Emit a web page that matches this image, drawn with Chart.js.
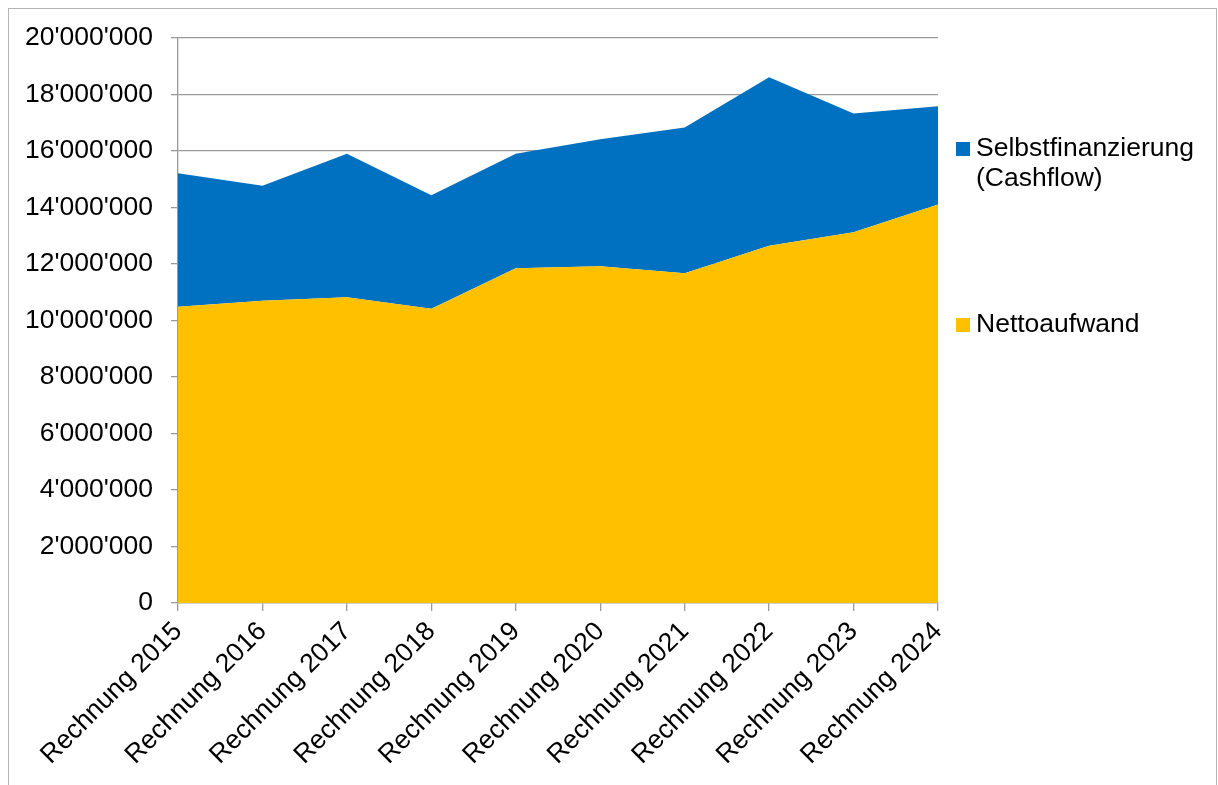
<!DOCTYPE html>
<html>
<head>
<meta charset="utf-8">
<script src="https://cdn.jsdelivr.net/npm/chart.js@4"></script>
<style>
    body { margin: 0; background: #fff; }
    canvas { display: block; }
</style>
</head>
<body>
<canvas id="areaChart" width="1218" height="785"></canvas>
<script>
// Kategorien und Werte (in Mio. CHF)
var years = ["Rechnung 2015", "Rechnung 2016", "Rechnung 2017", "Rechnung 2018", "Rechnung 2019",
             "Rechnung 2020", "Rechnung 2021", "Rechnung 2022", "Rechnung 2023", "Rechnung 2024"];
var nettoaufwand = [10.49, 10.70, 10.82, 10.42, 11.85, 11.92, 11.67, 12.65, 13.12, 14.11];
var cashflow = [4.72, 4.07, 5.08, 4.01, 4.05, 4.50, 5.16, 5.96, 4.21, 3.47];
var yTicks = [0, 2, 4, 6, 8, 10, 12, 14, 16, 18, 20];

const fontFamily = "'Liberation Sans', Arial, sans-serif";
const fontSize = 26.5;

function toFranken(arr) {
    return arr.map(v => Math.round(v * 1000000));
}

function swissFormat(value) {
    return value.toString().replace(/\B(?=(\d{3})+(?!\d))/g, "'");
}

// Rahmen um das ganze Diagramm
const frame = {
    id: "frame",
    beforeDraw(chart) {
        var ctx = chart.ctx;
        ctx.save();
        ctx.fillStyle = "#fff";
        ctx.fillRect(0, 0, chart.width, chart.height);
        ctx.strokeStyle = "#b4b4b4";
        ctx.lineWidth = 1;
        ctx.strokeRect(8.5, 8.5, 1208, 800);
        ctx.restore();
    }
};

// Legende rechts, mit Zeilenumbruch
const sideLegend = {
    id: "sideLegend",
    afterDraw(chart) {
        var ctx = chart.ctx;
        var x = chart.chartArea.right + 18;
        var rows = [149, 325];
        var order = [1, 0];
        ctx.save();
        ctx.font = fontSize + "px " + fontFamily;
        ctx.textBaseline = "middle";
        order.forEach((dsIndex, i) => {
            var ds = chart.data.datasets[dsIndex];
            var y = rows[i];
            ctx.fillStyle = ds.backgroundColor;
            ctx.fillRect(x, y - 7, 14, 14);
            ctx.fillStyle = "#000";
            var lines = ds.label.split(" (");
            lines.forEach((line, j) => {
                var txt = j > 0 ? "(" + line : line;
                ctx.fillText(txt, x + 20, y + j * 30);
            });
        });
        ctx.restore();
    }
};

var areaChart = new Chart("areaChart", {
    type: "line",
    data: {
        labels: years,
        datasets: [{
            label: "Nettoaufwand",
            data: toFranken(nettoaufwand),
            backgroundColor: "#FFC000",
            borderWidth: 0,
            pointRadius: 0,
            fill: "origin"
        }, {
            label: "Selbstfinanzierung (Cashflow)",
            data: toFranken(cashflow),
            backgroundColor: "#0070C0",
            borderWidth: 0,
            pointRadius: 0,
            fill: "-1"
        }]
    },
    options: {
        responsive: false,
        animation: false,
        devicePixelRatio: 1,
        layout: {
            padding: {top: 38, left: 7, right: 280, bottom: 0}
        },
        plugins: {
            legend: {display: false},
            tooltip: {enabled: false}
        },
        scales: {
            x: {
                offset: false,
                afterFit: axis => { axis.height = 182; },
                grid: {
                    drawOnChartArea: false,
                    drawTicks: true,
                    tickLength: 8,
                    color: "#9a9a9a",
                    lineWidth: 1.3
                },
                border: {color: "#9a9a9a", width: 1.3},
                ticks: {
                    color: "#000",
                    font: {family: fontFamily, size: fontSize},
                    maxRotation: 45,
                    minRotation: 45,
                    padding: 5,
                    autoSkip: false
                }
            },
            y: {
                stacked: true,
                min: 0,
                max: 20000000,
                afterBuildTicks: axis => {
                    axis.ticks = yTicks.map(v => ({value: v * 1000000}));
                },
                grid: {
                    color: "#9a9a9a",
                    lineWidth: 1.3,
                    tickLength: 7
                },
                border: {color: "#9a9a9a", width: 1.3},
                ticks: {
                    color: "#000",
                    font: {family: fontFamily, size: fontSize},
                    padding: 18,
                    callback: value => swissFormat(value)
                }
            }
        }
    },
    plugins: [frame, sideLegend]
});
</script>
</body>
</html>
